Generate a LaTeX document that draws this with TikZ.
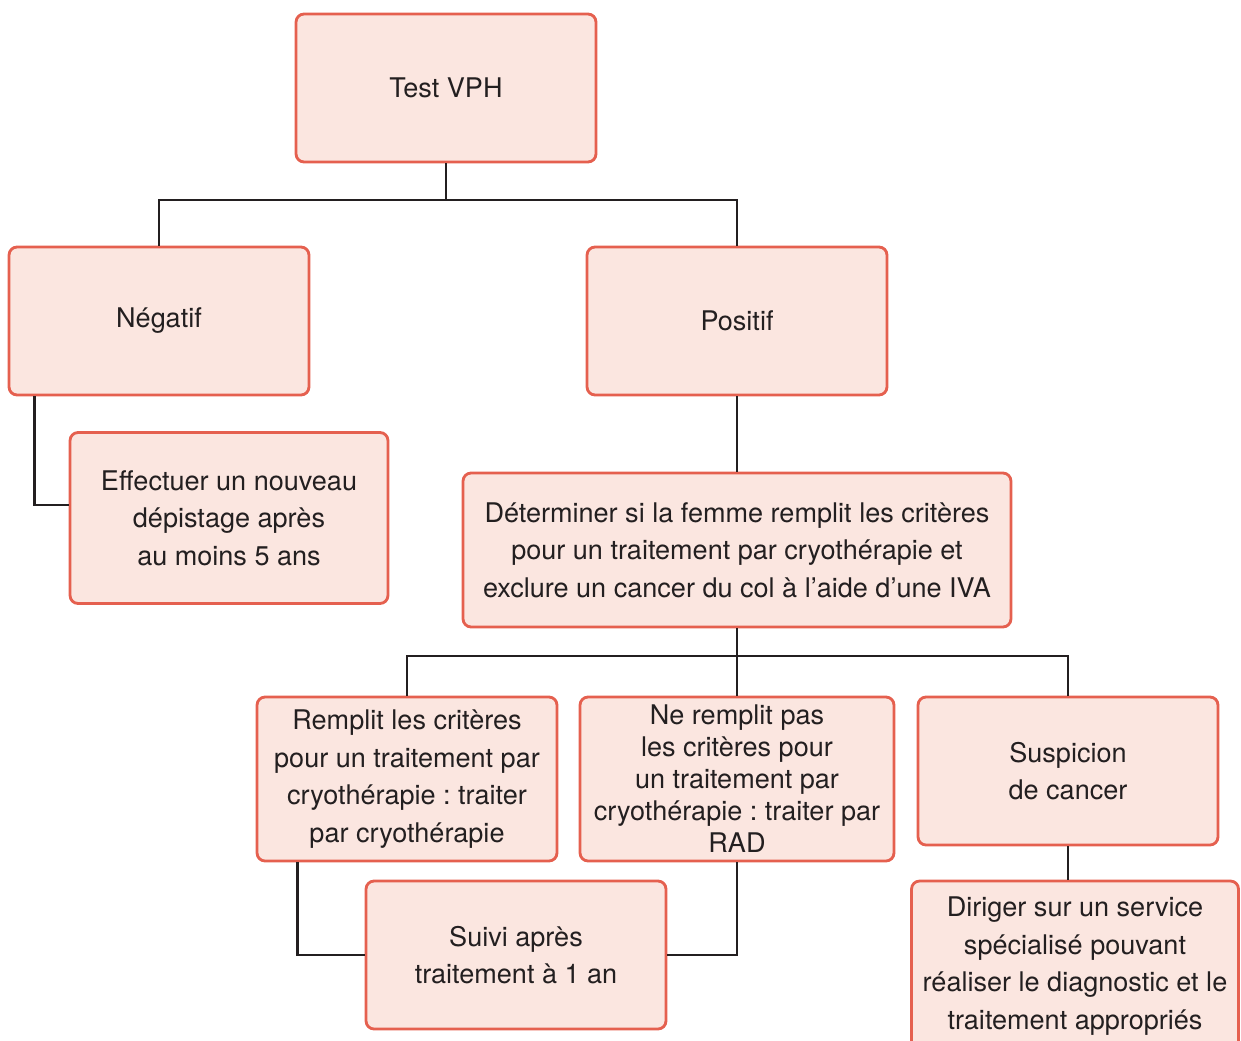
\documentclass[tikz,border=0pt]{standalone}
\usepackage{fontspec}
\setmainfont{TeX Gyre Heros}
\definecolor{boxfill}{HTML}{FBE6E0}
\definecolor{boxline}{HTML}{E5604F}
\definecolor{inkgray}{HTML}{231F20}
\frenchspacing
\begin{document}
\begin{tikzpicture}[x=0.02cm, y=-0.02cm,
    box/.style={draw=boxline, fill=boxfill, line width=1.6pt, rounded corners=0.16cm,
        align=center, text=inkgray, font=\fontsize{15.4}{21.3}\selectfont,
        minimum width=6cm, minimum height=2.96cm, inner sep=2pt},
    link/.style={draw=inkgray, line width=1.6pt}]
    \useasboundingbox (0,0) rectangle (1241,1041);

    % Screening test and first result
    \node[box] (test) at (446, 88) {Test VPH};
    \node[box] (neg) at (159, 321) {Négatif};
    \node[box] (pos) at (737, 321) {Positif};
    \node[box, minimum width=6.36cm, minimum height=3.42cm] (redo) at (229, 518)
        {Effectuer un nouveau\\dépistage après\\au moins 5 ans};
    \node[box, minimum width=10.96cm, minimum height=3.08cm] (eval) at (737, 550)
        {Déterminer si la femme remplit les critères\\pour un traitement par cryothérapie et\\exclure un cancer du col à l’aide d’une IVA};

    % Three possible outcomes of the evaluation
    \node[box, minimum height=3.28cm] (cryo) at (407, 779)
        {Remplit les critères\\pour un traitement par\\cryothérapie : traiter\\par cryothérapie};
    \node[box, minimum width=6.28cm, minimum height=3.28cm, font=\fontsize{15.4}{18.2}\selectfont] (rad) at (737, 779)
        {Ne remplit pas\\les critères pour\\un traitement par\\cryothérapie : traiter par\\RAD};
    \node[box] (susp) at (1068, 771) {Suspicion\\de cancer};
    \node[box] (follow) at (516, 955) {Suivi après\\traitement à 1 an};
    \node[box, minimum width=6.54cm, minimum height=3.4cm] (refer) at (1075, 966)
        {Diriger sur un service\\spécialisé pouvant\\réaliser le diagnostic et le\\traitement appropriés};

    % Connectors
    \coordinate (tj) at (446, 200);
    \coordinate (ej) at (737, 656);
    \draw[link] (test.south) -- (tj);
    \draw[link] (neg.north) |- (tj) -| (pos.north);
    \draw[link] ([xshift=0.54cm]neg.south west) |- ([yshift=0.26cm]redo.west);
    \draw[link] (pos.south) -- (eval.north);
    \draw[link] (eval.south) -- (ej);
    \draw[link] (cryo.north) |- (ej) -| (susp.north);
    \draw[link] (ej) -- (rad.north);
    \draw[link] (susp.south) -- (susp.south |- refer.north);
    \draw[link] ([xshift=0.84cm]cryo.south west) |- (follow.west);
    \draw[link] (rad.south) |- (follow.east);
\end{tikzpicture}
\end{document}
